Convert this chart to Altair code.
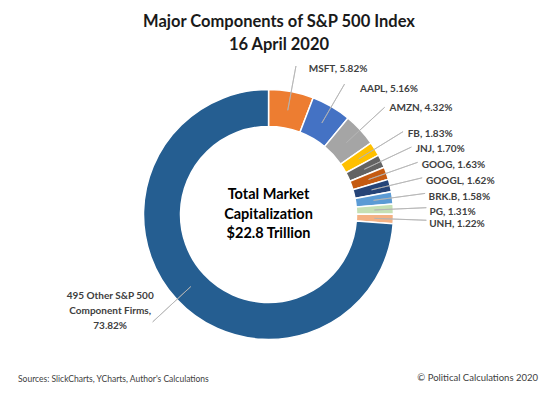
import altair as alt
import pandas as pd
import math

# ---- data ----
tickers = ["MSFT", "AAPL", "AMZN", "FB", "JNJ", "GOOG", "GOOGL", "BRK.B", "PG", "UNH",
           "495 Other S&P 500 Component Firms"]
shares = [5.82, 5.16, 4.32, 1.83, 1.70, 1.63, 1.62, 1.58, 1.31, 1.22, 73.82]
colors = ["#ED7D31", "#4472C4", "#A5A5A5", "#FFC000", "#636363", "#C55A11",
          "#264478", "#5B9BD5", "#C5E0B4", "#F4B183", "#255E91"]
title_lines = ["Major Components of S&P 500 Index", "16 April 2020"]
center_lines = ["Total Market", "Capitalization", "$22.8 Trillion"]
source_text = "Sources: SlickCharts, YCharts, Author's Calculations"
credit_text = "\u00a9 Political Calculations 2020"

df = pd.DataFrame({"name": tickers, "share": shares})
df["end"] = df["share"].cumsum()
df["start"] = df["end"] - df["share"]
df["mid"] = df["start"] + df["share"] / 2
df["label"] = [f"{t}, {v:.2f}%" for t, v in zip(tickers, shares)]
df.loc[df.index[-1], "label"] = "495 Other S&P 500\nComponent Firms,\n73.82%"
# label placement group, derived from the slice's position on the ring
df["grp"] = ["top" if m < 10 else ("right" if m < 50 else "left") for m in df["mid"]]

FONT = "Lato"
CX, CY = 260.5, 206.5
theta_scale = alt.Scale(domain=[0, 100], range=[0, 2 * math.pi])
cx = alt.value(CX)
cy = alt.value(CY)
theta_mid = alt.Theta("mid:Q", scale=theta_scale, stack=None)

base = alt.Chart(df)

slices = base.mark_arc(radius=125, radius2=88, stroke="white", strokeWidth=1.5).encode(
    x=cx, y=cy,
    theta=alt.Theta("start:Q", scale=theta_scale, stack=None),
    theta2="end:Q",
    color=alt.Color("name:N", scale=alt.Scale(domain=tickers, range=colors), legend=None),
)


def leaders(grp, r_out):
    return base.transform_filter(alt.datum.grp == grp).mark_arc(
        radius=r_out, radius2=106, stroke="#b4b4b4", strokeWidth=0.8, fillOpacity=0
    ).encode(x=cx, y=cy, theta=theta_mid, theta2="mid:Q")


lead_top = leaders("top", 151)
lead_right = leaders("right", 158)
lead_left = leaders("left", 158)

label_style = dict(font=FONT, fontSize=10, fontWeight="bold", color="#404040")

labels_top = base.transform_filter(alt.datum.grp == "top").mark_text(
    radius=161, thetaOffset=0.025, align="left", baseline="middle",
    dx=7, dy=12, **label_style
).encode(x=cx, y=cy, theta=theta_mid, text="label:N")

labels_right = base.transform_filter(alt.datum.grp == "right").mark_text(
    radius=161, thetaOffset=0.025, align="left", baseline="middle", **label_style
).encode(x=cx, y=cy, theta=theta_mid, text="label:N")

labels_left = base.transform_filter(alt.datum.grp == "left").mark_text(
    radius=160, align="center", baseline="middle", lineBreak="\n",
    lineHeight=15, dx=-41, dy=-27, **label_style
).encode(x=cx, y=cy, theta=theta_mid, text="label:N")


def text_layer(lines, x, y0, step, size, weight, color, align="center"):
    d = pd.DataFrame({"t": lines, "i": list(range(len(lines)))})
    return alt.Chart(d).mark_text(
        align=align, baseline="alphabetic", font=FONT, fontSize=size,
        fontWeight=weight, color=color
    ).encode(
        text="t:N",
        x=alt.value(x),
        y=alt.Y("i:Q", scale=alt.Scale(domain=[0, 1], range=[y0, y0 + step]), axis=None),
    )


title = text_layer(title_lines, 271, 19, 22.5, 16.5, "bold", "#1a1a1a")
center = text_layer(center_lines, CX, 191, 19.5, 14.5, "bold", "#000000")
source = text_layer([source_text], 10, 373.5, 10, 8.5, "normal", "#404040", align="left")
credit = text_layer([credit_text], 530, 373, 10, 9.5, "normal", "#404040", align="right")

chart = alt.layer(
    slices, lead_top, lead_right, lead_left, labels_top, labels_right, labels_left,
    title, center, source, credit
).resolve_scale(y="independent").properties(
    width=542, height=382, padding=0,
    autosize=alt.AutoSizeParams(type="none"),
).configure_view(stroke=None)

chart.save("out.html", embed_options={"renderer": "svg", "actions": False})
